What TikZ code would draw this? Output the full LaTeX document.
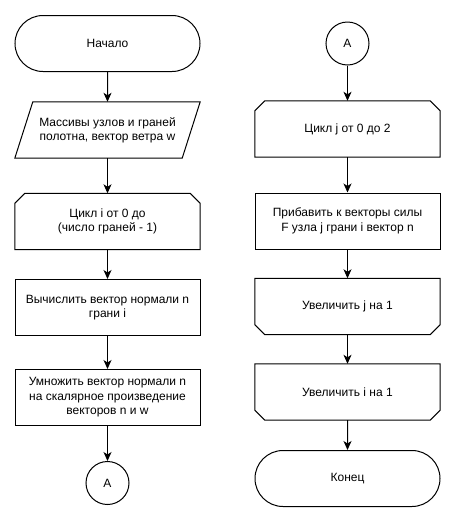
\documentclass[tikz,border=0pt]{standalone}
\usepackage{fontspec}
\setmainfont{Liberation Sans}
\usetikzlibrary{arrows.meta,shapes.misc}
\begin{document}
\begin{tikzpicture}[x=1pt,y=-1pt,
  every node/.style={font=\fontsize{12}{14.4}\selectfont, align=center, text=black},
  blk/.style={minimum width=185pt, minimum height=56pt, inner sep=0pt},
  term/.style={blk, rounded rectangle, draw, line width=1pt},
  proc/.style={blk, rectangle, draw, line width=1pt},
  hid/.style={blk, rectangle},
  conn/.style={circle, draw, line width=1pt, minimum size=43pt, inner sep=0pt},
  arr/.style={-{Stealth[length=9pt,width=8pt,inset=2.5pt]}, line width=1pt},
  outl/.style={line width=1pt, line join=miter}]
\useasboundingbox[fill=white] (0,0) rectangle (456,523);

% left column
\node[term] (start) at (107.5,43.5) {Начало};
\node[hid] (inp) at (107.5,130) {Массивы узлов и граней\\полотна, вектор ветра w};
\node[hid] (loopi) at (107.5,221.5) {Цикл i от 0 до\\(число граней - 1)};
\node[proc] (calc) at (107.5,307.5) {Вычислить вектор нормали n\\грани i};
\node[proc] (mult) at (107.5,397.5) {Умножить вектор нормали n\\на скалярное произведение\\векторов n и w};
\node[conn] (a1) at (107.5,483) {A};

% right column
\node[conn] (a2) at (347.5,43.5) {A};
\node[hid] (loopj) at (347.5,129) {Цикл j от 0 до 2};
\node[proc] (add) at (347.5,221) {Прибавить к векторы силы\\F узла j грани i вектор n};
\node[hid] (incj) at (347.5,306.5) {Увеличить j на 1};
\node[hid] (inci) at (347.5,392) {Увеличить i на 1};
\node[term] (fin) at (347.5,478.5) {Конец};

% outlines
\draw[outl] ([xshift=18pt]inp.north west) -- (inp.north east) -- ([xshift=-18pt]inp.south east) -- (inp.south west) -- cycle;
\foreach \n in {loopi,loopj}{
  \draw[outl] (\n.south west) -- ([yshift=-10pt]\n.north west) -- ([xshift=10pt]\n.north west)
    -- ([xshift=-10pt]\n.north east) -- ([yshift=-10pt]\n.north east) -- (\n.south east) -- cycle;
}
\foreach \n in {incj,inci}{
  \draw[outl] (\n.north west) -- ([yshift=10pt]\n.south west) -- ([xshift=10pt]\n.south west)
    -- ([xshift=-10pt]\n.south east) -- ([yshift=10pt]\n.south east) -- (\n.north east) -- cycle;
}

% connectors
\draw[arr] (start) -- (inp);
\draw[arr] (inp) -- (loopi);
\draw[arr] (loopi) -- (calc);
\draw[arr] (calc) -- (mult);
\draw[arr] (mult) -- (a1);
\draw[arr] (a2) -- (loopj);
\draw[arr] (loopj) -- (add);
\draw[arr] (add) -- (incj);
\draw[arr] (incj) -- (inci);
\draw[arr] (inci) -- (fin);
\end{tikzpicture}
\end{document}
